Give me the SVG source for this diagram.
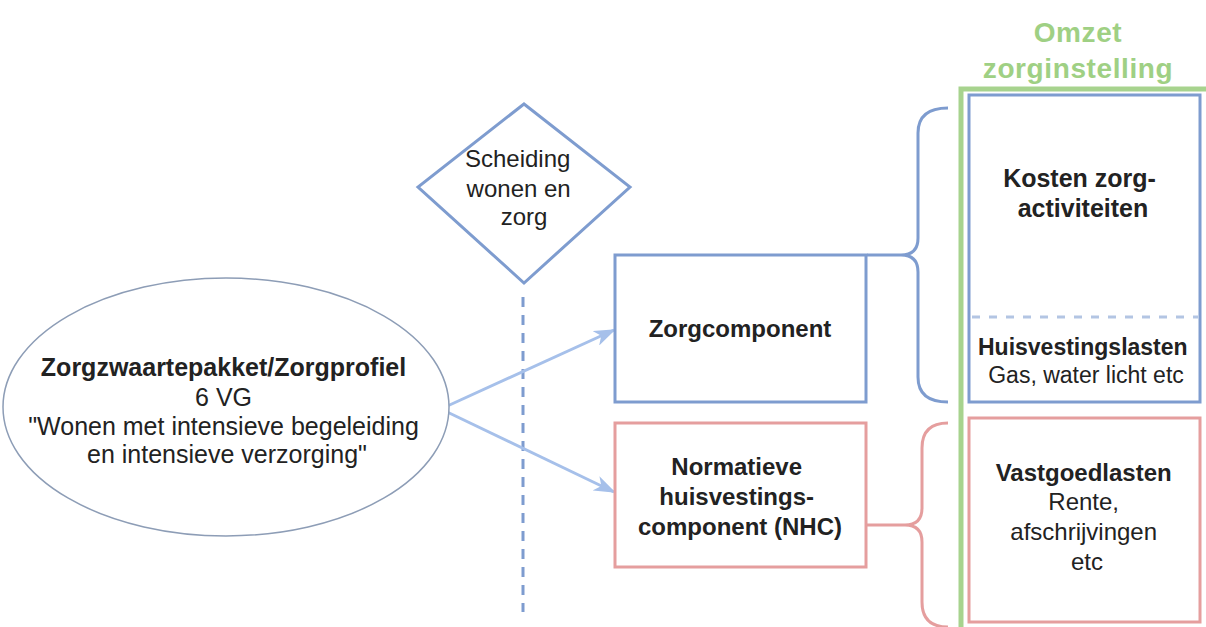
<svg xmlns="http://www.w3.org/2000/svg" width="1206" height="627" viewBox="0 0 1206 627">
  <style>
    .txt { font-family: "Liberation Sans", Arial, sans-serif; fill: #222; text-anchor: middle; }
    .b { font-weight: bold; }
    .blue { fill: #ffffff; stroke: #7e9ccf; stroke-width: 3; }
    .red { fill: #ffffff; stroke: #e59e9e; stroke-width: 3; }
    .brace-blue { fill: none; stroke: #7e9ccf; stroke-width: 3; }
    .brace-red { fill: none; stroke: #e59e9e; stroke-width: 3; }
    .flow { fill: none; stroke: #a6c0ea; stroke-width: 3; }
    .title { font-family: "Liberation Sans", Arial, sans-serif; font-weight: bold; fill: #9fd084; text-anchor: middle; font-size: 28px; letter-spacing: 0.6px; }
  </style>
  <defs>
    <marker id="arrow" viewBox="0 0 22 16" refX="20" refY="8" markerWidth="22" markerHeight="16" markerUnits="userSpaceOnUse" orient="auto">
      <path d="M0,0 L22,8 L0,16 L6,8 Z" fill="#a6c0ea"/>
    </marker>
  </defs>

  <rect width="1206" height="627" fill="#ffffff"/>

  <!-- outer revenue frame and its title -->
  <g id="omzet">
    <path d="M961,640 L961,89 L1220,89" fill="none" stroke="#a7d38e" stroke-width="5"/>
    <text class="title" x="1078" y="42">Omzet</text>
    <text class="title" x="1078" y="78">zorginstelling</text>
  </g>

  <!-- connectors -->
  <g id="connectors">
    <line x1="523" y1="297" x2="523" y2="612" stroke="#7e9ccf" stroke-width="3" stroke-dasharray="10 8"/>
    <line class="flow" x1="443" y1="408" x2="614" y2="330" marker-end="url(#arrow)"/>
    <line class="flow" x1="443" y1="410" x2="614" y2="492" marker-end="url(#arrow)"/>
    <path class="brace-blue" d="M948,108 Q918,108 918,133 L918,238 Q918,255 901,255 L867,255 M901,255 Q918,255 918,272 L918,377 Q918,402 948,402"/>
    <path class="brace-red" d="M948,423 Q922,423 922,448 L922,508 Q922,525 905,525 L867,525 M905,525 Q922,525 922,542 L922,602 Q922,627 948,627"/>
  </g>

  <g id="zorgprofiel">
    <ellipse cx="226" cy="407" rx="223" ry="129" fill="#ffffff" stroke="#8d9db6" stroke-width="1.5"/>
    <text class="txt" font-size="25">
      <tspan class="b" x="227" y="376">Zorgzwaartepakket/Zorgprofiel</tspan>
      <tspan x="227" y="406">6 VG</tspan>
      <tspan x="227" y="435">"Wonen met intensieve begeleiding</tspan>
      <tspan x="227" y="463">en intensieve verzorging"</tspan>
    </text>
  </g>

  <g id="scheiding">
    <polygon class="blue" points="524,104 630,187 524,283 418,187"/>
    <text class="txt" font-size="24">
      <tspan x="521" y="167">Scheiding</tspan>
      <tspan x="522" y="197">wonen en</tspan>
      <tspan x="524" y="225">zorg</tspan>
    </text>
  </g>

  <g id="zorgcomponent">
    <rect class="blue" x="615" y="255" width="251" height="147"/>
    <text class="txt b" font-size="24" x="740" y="337">Zorgcomponent</text>
  </g>

  <g id="nhc">
    <rect class="red" x="615" y="423" width="251" height="144"/>
    <text class="txt b" font-size="24">
      <tspan x="740" y="475">Normatieve</tspan>
      <tspan x="740" y="505">huisvestings-</tspan>
      <tspan x="740" y="535">component (NHC)</tspan>
    </text>
  </g>

  <g id="kosten-zorg">
    <rect class="blue" x="969" y="95" width="231" height="307"/>
    <line x1="972" y1="317" x2="1198" y2="317" stroke="#b3c5e3" stroke-width="3" stroke-dasharray="8 9"/>
    <text class="txt b" font-size="25">
      <tspan x="1083" y="187">Kosten zorg-</tspan>
      <tspan x="1083" y="217">activiteiten</tspan>
    </text>
    <text class="txt" font-size="23">
      <tspan class="b" x="1086" y="355">Huisvestingslasten</tspan>
      <tspan x="1086" y="383">Gas, water licht etc</tspan>
    </text>
  </g>

  <g id="vastgoedlasten">
    <rect class="red" x="969" y="418" width="231" height="204"/>
    <text class="txt" font-size="24">
      <tspan class="b" x="1087" y="481">Vastgoedlasten</tspan>
      <tspan x="1087" y="510">Rente,</tspan>
      <tspan x="1087" y="540">afschrijvingen</tspan>
      <tspan x="1087" y="570">etc</tspan>
    </text>
  </g>
</svg>
